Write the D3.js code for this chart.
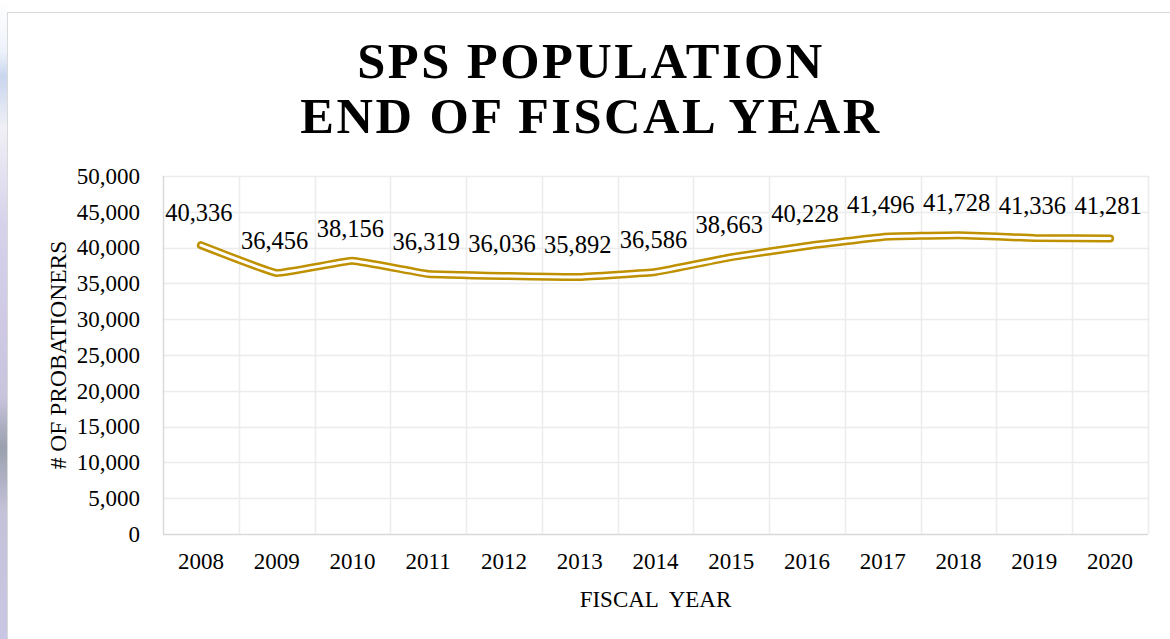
<!doctype html>
<html lang="en">
<head>
<meta charset="utf-8">
<script src="https://d3js.org/d3.v7.min.js"></script>
<style>
  body { margin: 0; background: #fff; }
  svg { display: block; }
  svg text { font-family: "Liberation Serif", "Times New Roman", serif; }
</style>
</head>
<body>
<div id="chart"></div>
<script>
    // data
    var years = ["2008", "2009", "2010", "2011", "2012", "2013", "2014", "2015", "2016", "2017", "2018", "2019", "2020"];
    var population = [40336, 36456, 38156, 36319, 36036, 35892, 36586, 38663, 40228, 41496, 41728, 41336, 41281];
    var yTicks = [0, 5000, 10000, 15000, 20000, 25000, 30000, 35000, 40000, 45000, 50000];
    var titleLines = ["SPS POPULATION", "END OF FISCAL YEAR"];

    var serif = "Liberation Serif, Times New Roman, serif";
    var width = 1170, height = 639;
    var margin = { top: 176, right: 22, bottom: 105, left: 163 };
    var plotW = width - margin.left - margin.right,
        plotH = height - margin.top - margin.bottom;

    var svg = d3.select("#chart").append("svg")
        .attr("width", width)
        .attr("height", height);

    // bit of the slide background peeking in on the left
    var grad = svg.append("defs").append("linearGradient")
        .attr("id", "strip").attr("x1", 0).attr("y1", 0).attr("x2", 0).attr("y2", 1);
    [["0%", "#ffffff"], ["8%", "#eef2fb"], ["12%", "#c9d6ee"], ["20%", "#f0f0f6"], ["35%", "#d6d2ea"],
     ["50%", "#cfc9e6"], ["62%", "#c8c4dc"], ["70%", "#9aa0ae"], ["80%", "#c4c2d8"], ["100%", "#c8c6e4"]]
        .forEach(function (s) { grad.append("stop").attr("offset", s[0]).attr("stop-color", s[1]); });
    svg.append("rect").attr("x", 0).attr("y", 0).attr("width", 7).attr("height", height).attr("fill", "url(#strip)");

    // chart card
    svg.append("rect")
        .attr("x", 7.5).attr("y", 12.5)
        .attr("width", width).attr("height", height)
        .attr("fill", "#fff")
        .attr("stroke", "#d9d9d9")
        .attr("stroke-width", 1);

    // title
    svg.append("text")
        .attr("x", 591)
        .attr("text-anchor", "middle")
        .attr("font-family", serif)
        .attr("font-weight", "bold")
        .attr("font-size", 50.5)
        .attr("letter-spacing", 2.5)
        .selectAll("tspan")
        .data(titleLines)
        .join("tspan")
        .attr("x", 591)
        .attr("y", (d, i) => 78 + i * 55)
        .text(d => d);

    var g = svg.append("g").attr("transform", "translate(" + margin.left + "," + margin.top + ")");

    var x = d3.scaleBand().domain(years).range([0, plotW]);
    var y = d3.scaleLinear().domain([0, 50000]).range([plotH, 0]);

    // horizontal gridlines
    g.append("g").selectAll("line")
        .data(yTicks.filter(d => d > 0))
        .join("line")
        .attr("x1", 0).attr("x2", plotW)
        .attr("y1", d => Math.round(y(d)) + 0.5).attr("y2", d => Math.round(y(d)) + 0.5)
        .attr("stroke", "#ececec").attr("stroke-width", 1.5);

    // vertical gridlines at category edges
    g.append("g").selectAll("line")
        .data(years)
        .join("line")
        .attr("x1", (d, i) => Math.round(x.step() * (i + 1)) + 0.5)
        .attr("x2", (d, i) => Math.round(x.step() * (i + 1)) + 0.5)
        .attr("y1", 0).attr("y2", plotH)
        .attr("stroke", "#ececec").attr("stroke-width", 1.5);

    // axis lines
    g.append("line").attr("x1", 0.5).attr("x2", 0.5).attr("y1", 0).attr("y2", plotH)
        .attr("stroke", "#d9d9d9").attr("stroke-width", 1.5);
    g.append("line").attr("x1", 0).attr("x2", plotW).attr("y1", plotH + 0.5).attr("y2", plotH + 0.5)
        .attr("stroke", "#d9d9d9").attr("stroke-width", 1.5);

    // y axis
    var yAxis = g.append("g")
        .call(d3.axisLeft(y).tickValues(yTicks).tickFormat(d3.format(",")).tickSize(0).tickPadding(23));
    yAxis.select(".domain").remove();
    yAxis.selectAll("text")
        .attr("font-family", serif)
        .attr("font-size", 23)
        .attr("fill", "#000");

    // x axis
    var xAxis = g.append("g")
        .attr("transform", "translate(0," + plotH + ")")
        .call(d3.axisBottom(x).tickSize(0).tickPadding(19));
    xAxis.select(".domain").remove();
    xAxis.selectAll("text")
        .attr("font-family", serif)
        .attr("font-size", 23)
        .attr("fill", "#000");

    // axis titles
    svg.append("text")
        .attr("x", margin.left + plotW / 2)
        .attr("y", 607)
        .attr("text-anchor", "middle")
        .attr("font-family", serif)
        .attr("font-size", 23)
        .style("white-space", "pre")
        .text("FISCAL  YEAR");

    svg.append("text")
        .attr("transform", "translate(66," + (margin.top + plotH / 2) + ") rotate(-90)")
        .attr("text-anchor", "middle")
        .attr("font-family", serif)
        .attr("font-size", 23.5)
        .text("# OF PROBATIONERS");

    // the double line: gold stroke with a white core
    var line = d3.line()
        .x((d, i) => x(years[i]) + x.bandwidth() / 2)
        .y(d => y(d))
        .curve(d3.curveCardinal.tension(0.75));

    g.append("path")
        .datum(population)
        .attr("d", line)
        .attr("fill", "none")
        .attr("stroke", "#bf9000")
        .attr("stroke-width", 8)
        .attr("stroke-linejoin", "round")
        .attr("stroke-linecap", "round");

    g.append("path")
        .datum(population)
        .attr("d", line)
        .attr("fill", "none")
        .attr("stroke", "#fff")
        .attr("stroke-width", 3)
        .attr("stroke-linejoin", "round")
        .attr("stroke-linecap", "round");

    // data labels
    g.append("g").selectAll("text")
        .data(population)
        .join("text")
        .attr("x", (d, i) => x(years[i]) + x.bandwidth() / 2 - 2)
        .attr("y", d => y(d) - 24)
        .attr("text-anchor", "middle")
        .attr("font-family", serif)
        .attr("font-size", 24.5)
        .attr("fill", "#000")
        .text(d => d3.format(",")(d));
</script>
</body>
</html>
